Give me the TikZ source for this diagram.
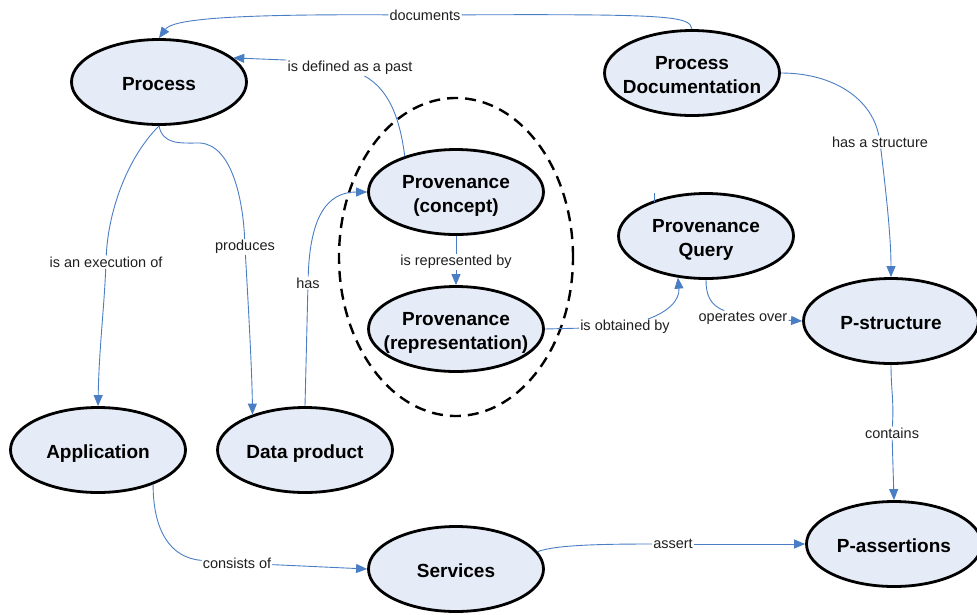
\documentclass[tikz,border=0pt]{standalone}
\usepackage{fontspec}
\setmainfont{Liberation Sans}
\usetikzlibrary{shapes.geometric,arrows.meta,calc}
\definecolor{entfill}{RGB}{230,236,247}
\definecolor{conn}{RGB}{74,126,196}
\newcommand\enttext[1]{\raisebox{-7.75pt}[0pt][0pt]{\makebox[0pt]{\begin{tabular}{@{}c@{}}#1\end{tabular}}}}
\begin{document}
\begin{tikzpicture}[x=1pt,y=-1pt,
  ent/.style={ellipse, draw=black, line width=2.8pt, fill=entfill, minimum width=175pt, minimum height=85pt, inner sep=0pt, font=\bfseries\fontsize{19}{24}\selectfont},
  grpstyle/.style={ellipse, draw=black, line width=2.4pt, dash pattern=on 11pt off 7pt, minimum width=234pt, minimum height=318pt, inner sep=0pt},
  lbl/.style={fill=white, inner sep=1pt, font=\fontsize{14.5}{16}\selectfont, text=black!88},
  link/.style={draw=conn, line width=0.9pt},
  arr/.style={link, -{Triangle[length=11pt,width=9pt]}},
]
\useasboundingbox (0,0) rectangle (977,614);

% group
\node[grpstyle] (grp) at (456,257) {};

% entities
\node[ent] (proc)  at (159,82)  {\enttext{Process}};
\node[ent] (pd)    at (692,73)  {\enttext{Process\\Documentation}};
\node[ent] (conc)  at (456,192) {\enttext{Provenance\\(concept)}};
\node[ent] (reprs) at (456,329) {\enttext{Provenance\\(representation)}};
\node[ent] (query) at (706,236) {\enttext{Provenance\\Query}};
\node[ent] (pstr)  at (891,321) {\enttext{P-structure}};
\node[ent] (pas)   at (894,544) {\enttext{P-assertions}};
\node[ent] (app)   at (98,450)  {\enttext{Application}};
\node[ent] (dp)    at (305,450) {\enttext{Data product}};
\node[ent] (svc)   at (456,569) {\enttext{Services}};

% labels
\node[lbl] (ldoc)  at (425,15)  {documents};
\node[lbl] (ldef)  at (350,68)  {is defined as a past};
\node[lbl] (lexe)  at (106,262) {is an execution of};
\node[lbl] (lprod) at (245,247) {produces};
\node[lbl] (lhas)  at (308,283) {has};
\node[lbl] (lrep)  at (456,262) {is represented by};
\node[lbl] (lobt)  at (625,327) {is obtained by};
\node[lbl] (lope)  at (743,318) {operates over};
\node[lbl] (lhs)   at (880,142) {has a structure};
\node[lbl] (lcon)  at (892,433) {contains};
\node[lbl] (lasr)  at (673,544) {assert};
\node[lbl] (lcons) at (237,563) {consists of};

% connectors
\draw[link] (pd.north) .. controls (690,16) and (670,14) .. (ldoc);
\draw[arr] (ldoc) .. controls (220,14) and (172,20) .. (proc.north);

\draw[link] (conc.145) .. controls (400,120) and (390,90) .. (ldef);
\draw[arr] (ldef.north west) -- (proc.18);

\draw[link] (proc.south) .. controls (125,160) and (108,215) .. (lexe);
\draw[arr] (lexe) .. controls (104,310) and (99,350) .. (app.north);

\draw[link] (proc.south) .. controls (163,145) and (180,143) .. (200,143) .. controls (232,145) and (243,200) .. (lprod);
\draw[arr] (lprod) .. controls (248,300) and (252,370) .. (dp.146);

\draw[link] (dp.north) -- (lhas);
\draw[arr] (lhas) .. controls (310,215) and (328,192) .. (conc.west);

\draw[link] (conc.south) -- (lrep);
\draw[arr] (lrep) -- (reprs.north);

\draw[link] (reprs.east) -- (lobt);
\draw[arr] (lobt) .. controls (668,312) and (680,300) .. (query.236);

\coordinate (qstub) at (654,193);
\draw[link] (qstub) -- ++(0,9);

\draw[link] (query.south) .. controls (706,295) and (710,305) .. (lope);
\draw[arr] (lope) -- (pstr.west);

\draw[link] (pd.east) .. controls (835,73) and (872,100) .. (lhs);
\draw[arr] (lhs) .. controls (887,200) and (891,240) .. (pstr.north);

\draw[link] (pstr.south) .. controls (891,390) and (894,400) .. (lcon);
\draw[arr] (lcon) -- (pas.north);

\draw[link] (svc.12) .. controls (555,545) and (600,544) .. (lasr);
\draw[arr] (lasr) -- (pas.west);

\draw[link] (app.-32) .. controls (153,530) and (170,558) .. (lcons);
\draw[arr] (lcons) -- (svc.west);
\end{tikzpicture}
\end{document}
